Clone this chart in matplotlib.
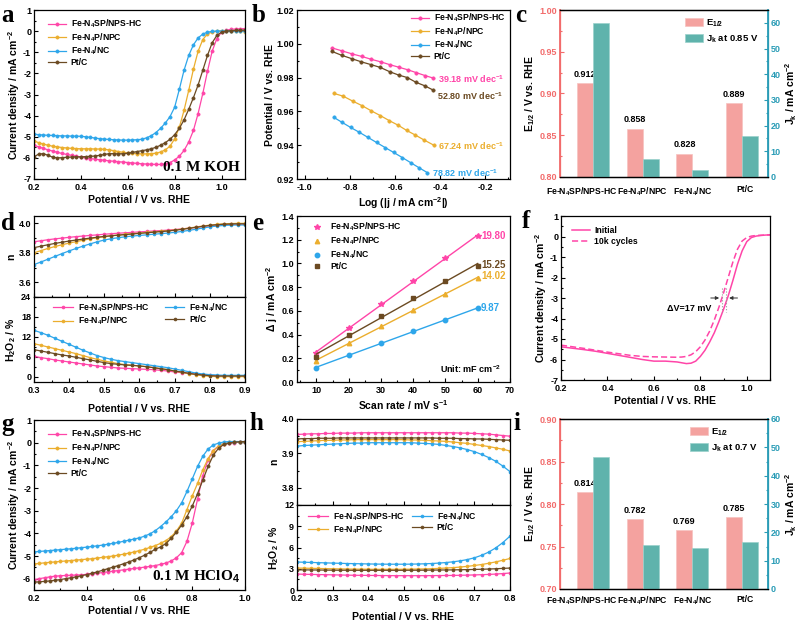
import numpy as np
import matplotlib
matplotlib.use('Agg')
import matplotlib.pyplot as plt
from matplotlib.ticker import AutoMinorLocator
import matplotlib.transforms as mtransforms

plt.rcParams.update({
    'font.family': ['Liberation Sans', 'DejaVu Sans'],
    'font.weight': 'bold',
    'axes.labelweight': 'bold',
    'axes.unicode_minus': False,
    'mathtext.fontset': 'custom',
    'mathtext.rm': 'Liberation Sans:bold',
    'mathtext.it': 'Liberation Sans:bold',
    'mathtext.bf': 'Liberation Sans:bold',
    'mathtext.default': 'bf',
})

# ---------------- data ----------------
names = ['Fe-N$_4$SP/NPS-HC', 'Fe-N$_4$P/NPC', 'Fe-N$_4$/NC', 'Pt/C']
bar_names = ['Fe-N$_4$SP/NPS-HC', 'Fe-N$_4$P/NPC', 'Fe-N$_4$/NC', 'Pt/C']
colors = ['#FF45A8', '#EBAE2E', '#2EA6EA', '#6B4A22']

# (a) LSV in 0.1 M KOH
pot_a = [0.20, 0.22, 0.24, 0.26, 0.28, 0.30, 0.32, 0.34, 0.36, 0.38, 0.40, 0.42, 0.44, 0.46, 0.48,
         0.50, 0.52, 0.54, 0.56, 0.58, 0.60, 0.62, 0.64, 0.66, 0.68, 0.70, 0.72, 0.74, 0.76, 0.78,
         0.80, 0.82, 0.84, 0.86, 0.88, 0.90, 0.92, 0.94, 0.96, 0.98, 1.00, 1.02, 1.04, 1.06, 1.08, 1.10]
j_a_sp = [-5.40, -5.48, -5.55, -5.62, -5.68, -5.74, -5.79, -5.84, -5.88, -5.92, -5.96, -6.00, -6.03, -6.06, -6.09,
          -6.11, -6.14, -6.16, -6.18, -6.20, -6.22, -6.24, -6.26, -6.28, -6.29, -6.30, -6.31, -6.31, -6.28, -6.22,
          -6.10, -5.92, -5.65, -5.25, -4.70, -3.90, -2.95, -1.90, -0.95, -0.35, -0.05, 0.05, 0.08, 0.10, 0.11, 0.12]
j_a_p = [-5.20, -5.28, -5.35, -5.40, -5.45, -5.48, -5.51, -5.53, -5.55, -5.56, -5.57, -5.57, -5.57, -5.58, -5.58,
         -5.60, -5.62, -5.66, -5.70, -5.74, -5.77, -5.79, -5.80, -5.81, -5.81, -5.80, -5.78, -5.72, -5.62, -5.45,
         -5.10, -4.55, -3.75, -2.80, -1.80, -0.95, -0.40, -0.13, -0.04, 0.00, 0.02, 0.02, 0.02, 0.01, 0.00, -0.02]
j_a_nc = [-4.88, -4.90, -4.92, -4.93, -4.94, -4.95, -4.96, -4.96, -4.97, -4.97, -4.98, -5.00, -5.03, -5.06, -5.09,
          -5.11, -5.13, -5.14, -5.15, -5.16, -5.16, -5.15, -5.14, -5.12, -5.05, -4.95, -4.80, -4.60, -4.35, -4.05,
          -3.60, -2.75, -1.85, -1.15, -0.65, -0.32, -0.14, -0.05, -0.01, 0.00, 0.00, 0.00, 0.00, 0.00, 0.00, 0.00]
j_a_pt = [-5.95, -5.82, -5.80, -5.88, -5.97, -6.00, -5.99, -5.97, -5.96, -5.95, -5.95, -5.94, -5.93, -5.91, -5.88,
          -5.84, -5.80, -5.80, -5.81, -5.80, -5.78, -5.74, -5.70, -5.66, -5.62, -5.57, -5.50, -5.40, -5.28, -5.12,
          -4.90, -4.60, -4.20, -3.70, -3.15, -2.55, -1.85, -1.15, -0.55, -0.20, -0.05, 0.00, 0.02, 0.03, 0.04, 0.05]

# (b) Tafel
logj_sp = [-0.878, -0.835, -0.790, -0.747, -0.705, -0.663, -0.622, -0.582, -0.543, -0.505, -0.467, -0.430]
e_sp = [0.9975, 0.9958, 0.9940, 0.9925, 0.9908, 0.9893, 0.9876, 0.9861, 0.9846, 0.9829, 0.9812, 0.9797]
logj_p = [-0.870, -0.830, -0.788, -0.745, -0.705, -0.665, -0.625, -0.586, -0.548, -0.510, -0.470, -0.428]
e_p = [0.9706, 0.9690, 0.9661, 0.9633, 0.9603, 0.9575, 0.9545, 0.9518, 0.9487, 0.9460, 0.9430, 0.9400]
logj_nc = [-0.872, -0.835, -0.797, -0.758, -0.720, -0.682, -0.644, -0.606, -0.568, -0.531, -0.494, -0.457]
e_nc = [0.9565, 0.9535, 0.9505, 0.9476, 0.9446, 0.9416, 0.9386, 0.9357, 0.9327, 0.9297, 0.9267, 0.9238]
logj_pt = [-0.880, -0.837, -0.792, -0.749, -0.707, -0.665, -0.624, -0.584, -0.545, -0.507, -0.469, -0.432]
e_pt = [0.9955, 0.9932, 0.9912, 0.9893, 0.9877, 0.9860, 0.9835, 0.9815, 0.9800, 0.9772, 0.9752, 0.9727]
tafel_labels = ['39.18 mV dec$^{-1}$', '67.24 mV dec$^{-1}$', '78.82 mV dec$^{-1}$', '52.80 mV dec$^{-1}$']
tafel_label_y = [0.9790, 0.9394, 0.9236, 0.9690]

# (c) E1/2 and Jk in KOH
e12_koh = [0.912, 0.858, 0.828, 0.889]
jk_koh = [59.8, 7.0, 2.6, 15.8]

# (d) RRDE in KOH
pot_d = [0.30, 0.32, 0.34, 0.36, 0.38, 0.40, 0.42, 0.44, 0.46, 0.48, 0.50, 0.52, 0.54, 0.56, 0.58, 0.60,
         0.62, 0.64, 0.66, 0.68, 0.70, 0.72, 0.74, 0.76, 0.78, 0.80, 0.82, 0.84, 0.86, 0.88, 0.90]
n_d_sp = [3.875, 3.882, 3.889, 3.895, 3.900, 3.905, 3.910, 3.914, 3.918, 3.922, 3.926, 3.930, 3.933, 3.936, 3.939,
          3.942, 3.945, 3.948, 3.951, 3.954, 3.958, 3.962, 3.967, 3.973, 3.979, 3.985, 3.990, 3.993, 3.995, 3.996, 3.996]
n_d_p = [3.800, 3.815, 3.830, 3.843, 3.855, 3.866, 3.876, 3.886, 3.895, 3.903, 3.910, 3.916, 3.921, 3.926, 3.930,
         3.934, 3.938, 3.942, 3.946, 3.950, 3.955, 3.961, 3.968, 3.975, 3.982, 3.988, 3.993, 3.997, 3.999, 4.000, 4.000]
n_d_nc = [3.720, 3.738, 3.757, 3.776, 3.795, 3.813, 3.830, 3.846, 3.861, 3.875, 3.887, 3.896, 3.903, 3.909, 3.914,
          3.918, 3.922, 3.926, 3.930, 3.934, 3.939, 3.945, 3.952, 3.960, 3.968, 3.976, 3.982, 3.986, 3.988, 3.989, 3.989]
n_d_pt = [3.835, 3.845, 3.855, 3.864, 3.872, 3.880, 3.887, 3.894, 3.900, 3.906, 3.911, 3.916, 3.920, 3.924, 3.928,
          3.932, 3.936, 3.940, 3.944, 3.948, 3.953, 3.959, 3.966, 3.973, 3.980, 3.986, 3.991, 3.994, 3.996, 3.997, 3.997]
h_d_sp = [6.2, 5.8, 5.5, 5.1, 4.8, 4.5, 4.2, 3.9, 3.6, 3.3, 3.1, 2.9, 2.7, 2.6, 2.5, 2.4,
          2.3, 2.2, 2.0, 1.8, 1.5, 1.3, 1.1, 0.9, 0.7, 0.5, 0.4, 0.3, 0.3, 0.3, 0.3]
h_d_p = [10.0, 9.5, 9.0, 8.5, 8.0, 7.5, 7.0, 6.4, 5.8, 5.3, 4.8, 4.4, 4.0, 3.7, 3.5, 3.3,
         3.1, 2.8, 2.5, 2.2, 1.8, 1.4, 1.0, 0.7, 0.4, 0.2, 0.1, 0.1, 0.1, 0.1, 0.1]
h_d_nc = [14.0, 13.3, 12.5, 11.6, 10.7, 9.8, 8.9, 8.0, 7.2, 6.4, 5.8, 5.3, 4.9, 4.6, 4.3, 4.0,
          3.7, 3.4, 3.1, 2.8, 2.4, 2.0, 1.6, 1.2, 0.9, 0.7, 0.6, 0.5, 0.5, 0.5, 0.5]
h_d_pt = [8.2, 7.8, 7.4, 7.0, 6.6, 6.3, 5.9, 5.5, 5.1, 4.7, 4.3, 4.0, 3.8, 3.6, 3.5, 3.3,
          3.1, 2.8, 2.5, 2.2, 1.8, 1.5, 1.1, 0.8, 0.6, 0.4, 0.3, 0.3, 0.3, 0.3, 0.3]

# (e) double-layer capacitance
scan_rate = [10, 20, 30, 40, 50, 60]
dj_sp = [0.245, 0.455, 0.655, 0.855, 1.045, 1.230]
dj_p = [0.175, 0.330, 0.470, 0.610, 0.745, 0.875]
dj_nc = [0.120, 0.225, 0.330, 0.430, 0.525, 0.620]
dj_pt = [0.215, 0.395, 0.555, 0.710, 0.850, 0.980]
cdl_labels = ['19.80', '14.02', '9.87', '15.25']
cdl_label_y = [1.235, 0.895, 0.620, 0.985]

# (f) stability
pot_f = [0.20, 0.25, 0.30, 0.35, 0.40, 0.45, 0.50, 0.55, 0.60, 0.65, 0.70, 0.72, 0.74, 0.76, 0.78, 0.80,
         0.82, 0.84, 0.86, 0.88, 0.90, 0.92, 0.94, 0.96, 0.98, 1.00, 1.02, 1.04, 1.06, 1.08, 1.10]
j_f_init = [-5.38, -5.45, -5.52, -5.60, -5.70, -5.80, -5.90, -6.00, -6.08, -6.08, -6.12, -6.16, -6.20, -6.18, -6.08,
            -5.85, -5.55, -5.15, -4.70, -4.15, -3.55, -2.90, -2.15, -1.35, -0.70, -0.25, -0.05, 0.02, 0.05, 0.07, 0.08]
j_f_10k = [-5.30, -5.38, -5.46, -5.55, -5.64, -5.72, -5.80, -5.85, -5.87, -5.88, -5.89, -5.88, -5.85, -5.77, -5.62,
           -5.38, -5.05, -4.62, -4.08, -3.45, -2.75, -2.00, -1.25, -0.62, -0.22, -0.05, 0.02, 0.05, 0.06, 0.07, 0.08]
half_wave_f = [0.893, 0.912]

# (g) LSV in 0.1 M HClO4
pot_g = [0.20, 0.22, 0.24, 0.26, 0.28, 0.30, 0.32, 0.34, 0.36, 0.38, 0.40, 0.42, 0.44, 0.46, 0.48, 0.50,
         0.52, 0.54, 0.56, 0.58, 0.60, 0.62, 0.64, 0.66, 0.68, 0.70, 0.72, 0.74, 0.76, 0.78, 0.80,
         0.82, 0.84, 0.86, 0.88, 0.90, 0.92, 0.94, 0.96, 0.98, 1.00]
j_g_sp = [-6.05, -6.00, -5.96, -5.92, -5.89, -5.87, -5.86, -5.85, -5.84, -5.83, -5.81, -5.79, -5.76, -5.73, -5.70, -5.67,
          -5.64, -5.61, -5.58, -5.55, -5.52, -5.49, -5.46, -5.42, -5.37, -5.31, -5.22, -5.08, -4.85, -4.35, -3.55,
          -2.50, -1.45, -0.75, -0.35, -0.15, -0.06, -0.02, 0.00, 0.02, 0.03]
j_g_p = [-5.35, -5.33, -5.30, -5.28, -5.26, -5.24, -5.22, -5.20, -5.18, -5.16, -5.14, -5.12, -5.09, -5.06, -5.03, -5.00,
         -4.96, -4.92, -4.87, -4.82, -4.76, -4.70, -4.62, -4.54, -4.44, -4.32, -4.15, -3.90, -3.55, -2.95, -2.35,
         -1.80, -1.20, -0.70, -0.35, -0.14, -0.04, 0.01, 0.03, 0.03, 0.03]
j_g_nc = [-4.82, -4.80, -4.78, -4.76, -4.74, -4.72, -4.70, -4.68, -4.66, -4.63, -4.61, -4.58, -4.55, -4.52, -4.48, -4.44,
          -4.40, -4.35, -4.30, -4.25, -4.20, -4.12, -4.02, -3.88, -3.70, -3.50, -3.27, -3.00, -2.65, -2.15, -1.60,
          -1.05, -0.60, -0.28, -0.10, -0.02, 0.03, 0.05, 0.05, 0.05, 0.05]
j_g_pt = [-6.15, -6.14, -6.12, -6.10, -6.07, -6.04, -6.00, -5.96, -5.92, -5.87, -5.82, -5.76, -5.70, -5.63, -5.56, -5.49,
          -5.42, -5.34, -5.26, -5.17, -5.07, -4.96, -4.84, -4.70, -4.60, -4.45, -4.22, -3.95, -3.63, -3.26, -2.80,
          -2.25, -1.65, -1.05, -0.55, -0.24, -0.08, -0.02, 0.02, 0.04, 0.05]

# (h) RRDE in HClO4
pot_h = [0.20, 0.22, 0.24, 0.26, 0.28, 0.30, 0.32, 0.34, 0.36, 0.38, 0.40, 0.42, 0.44, 0.46, 0.48, 0.50,
         0.52, 0.54, 0.56, 0.58, 0.60, 0.62, 0.64, 0.66, 0.68, 0.70, 0.72, 0.74, 0.76, 0.78, 0.80]
n_h_sp = [3.955, 3.956, 3.957, 3.957, 3.958, 3.958, 3.959, 3.959, 3.959, 3.960, 3.960, 3.960, 3.960, 3.960, 3.960, 3.960,
          3.960, 3.960, 3.960, 3.960, 3.960, 3.960, 3.960, 3.959, 3.959, 3.958, 3.957, 3.956, 3.954, 3.952, 3.950]
n_h_p = [3.934, 3.935, 3.936, 3.937, 3.938, 3.938, 3.939, 3.939, 3.940, 3.940, 3.940, 3.940, 3.940, 3.940, 3.940, 3.940,
         3.939, 3.939, 3.938, 3.937, 3.936, 3.935, 3.933, 3.931, 3.929, 3.926, 3.923, 3.920, 3.916, 3.912, 3.907]
n_h_nc = [3.921, 3.923, 3.924, 3.925, 3.926, 3.927, 3.928, 3.929, 3.930, 3.930, 3.931, 3.931, 3.931, 3.931, 3.931, 3.931,
          3.931, 3.930, 3.929, 3.928, 3.926, 3.923, 3.920, 3.916, 3.911, 3.905, 3.897, 3.888, 3.877, 3.863, 3.847]
n_h_pt = [3.942, 3.943, 3.943, 3.944, 3.944, 3.944, 3.945, 3.945, 3.945, 3.945, 3.945, 3.945, 3.945, 3.945, 3.945, 3.945,
          3.945, 3.945, 3.945, 3.945, 3.944, 3.944, 3.944, 3.943, 3.943, 3.942, 3.942, 3.941, 3.940, 3.939, 3.938]
h_h_sp = [2.25, 2.22, 2.20, 2.18, 2.16, 2.14, 2.12, 2.10, 2.08, 2.07, 2.06, 2.05, 2.04, 2.03, 2.02, 2.02,
          2.02, 2.02, 2.02, 2.03, 2.04, 2.05, 2.06, 2.08, 2.10, 2.13, 2.16, 2.20, 2.25, 2.32, 2.40]
h_h_p = [3.10, 3.08, 3.06, 3.04, 3.02, 3.00, 2.98, 2.96, 2.95, 2.94, 2.93, 2.92, 2.92, 2.92, 2.92, 2.93,
         2.94, 2.96, 2.98, 3.01, 3.05, 3.10, 3.16, 3.24, 3.34, 3.46, 3.60, 3.77, 3.97, 4.20, 4.45]
h_h_nc = [3.95, 3.92, 3.89, 3.86, 3.83, 3.80, 3.77, 3.74, 3.72, 3.70, 3.68, 3.66, 3.65, 3.64, 3.64, 3.64,
          3.65, 3.67, 3.70, 3.74, 3.80, 3.88, 3.98, 4.12, 4.30, 4.55, 4.90, 5.35, 5.95, 6.70, 7.60]
h_h_pt = [2.85, 2.84, 2.83, 2.82, 2.81, 2.80, 2.79, 2.79, 2.78, 2.78, 2.78, 2.78, 2.78, 2.78, 2.78, 2.78,
          2.79, 2.79, 2.80, 2.81, 2.82, 2.83, 2.84, 2.86, 2.88, 2.90, 2.93, 2.96, 3.00, 3.05, 3.10]

# (i) E1/2 and Jk in HClO4
e12_acid = [0.814, 0.782, 0.769, 0.785]
jk_acid = [46.5, 15.5, 14.5, 16.5]

# ---------------- figure ----------------
W, H = 800, 622
fig = plt.figure(figsize=(W / 100, H / 100), dpi=100)

TICK = 6.5
LAB = 7.5
LEG = 6.2


def rect(l, t, r, b):
    return [l / W, 1 - b / H, (r - l) / W, (b - t) / H]


def style(ax, xminor=2, yminor=2):
    ax.tick_params(direction='in', which='both', labelsize=TICK, width=0.8)
    ax.tick_params(axis='x', which='both', pad=3)
    ax.tick_params(axis='y', which='both', pad=2)
    ax.tick_params(which='major', length=3)
    ax.tick_params(which='minor', length=1.6)
    if xminor:
        ax.xaxis.set_minor_locator(AutoMinorLocator(xminor))
    if yminor:
        ax.yaxis.set_minor_locator(AutoMinorLocator(yminor))
    for s in ax.spines.values():
        s.set_linewidth(0.9)


def mline(ax, x, y, c, label=None, ms=2.3):
    ax.plot(x, y, '-o', color=c, lw=0.9, ms=ms, mew=0.5, label=label)


def leg(ax, anchor, loc='upper left', **kw):
    opts = dict(frameon=False, fontsize=LEG, borderpad=0, borderaxespad=0,
                handlelength=2.1, handletextpad=0.55, labelspacing=0.12)
    opts.update(kw)
    return ax.legend(loc=loc, bbox_to_anchor=anchor, **opts)


def letter(x, y, s):
    fig.text(x / W, 1 - y / H, s, fontsize=18, family='Liberation Serif', weight='bold',
             ha='center', va='center')


# ----- (a)
ax = fig.add_axes(rect(34, 10, 245, 179))
for y, c, n in zip([j_a_sp, j_a_p, j_a_nc, j_a_pt], colors, names):
    mline(ax, pot_a, y, c, n)
ax.set_xlim(0.2, 1.1)
ax.set_ylim(-7, 1)
ax.set_xticks([0.2, 0.4, 0.6, 0.8, 1.0])
ax.set_yticks(range(-7, 2))
style(ax)
ax.set_xlabel('Potential / V vs. RHE', fontsize=LAB, labelpad=2)
ax.set_ylabel('Current density / mA cm$^{-2}$', fontsize=LAB, labelpad=1)
leg(ax, (0.066, 0.955))
ax.text(0.975, 0.03, '0.1 M KOH', transform=ax.transAxes, ha='right', va='bottom',
        fontsize=11, family='Liberation Serif', weight='bold')

# ----- (b)
ax = fig.add_axes(rect(297, 10, 510, 179))
tx = [logj_sp, logj_p, logj_nc, logj_pt]
ty = [e_sp, e_p, e_nc, e_pt]
for x, y, c, n in zip(tx, ty, colors, names):
    mline(ax, x, y, c, n, ms=2.4)
for x, c, lab, ly in zip(tx, colors, tafel_labels, tafel_label_y):
    ax.text(max(x) + 0.02, ly, lab, color=c, fontsize=6.5, va='center', ha='left')
ax.set_xticks([-1.0, -0.8, -0.6, -0.4, -0.2])
ax.set_yticks([0.92, 0.94, 0.96, 0.98, 1.00, 1.02])
style(ax)
ax.set_xlim(-1.035, -0.09)
ax.set_ylim(0.92, 1.02)
ax.set_xlabel('Log (|j / mA cm$^{-2}$|)', fontsize=LAB, labelpad=2)
ax.set_ylabel('Potential / V vs. RHE', fontsize=LAB, labelpad=1)
leg(ax, (0.977, 0.99), loc='upper right')

# ----- bar panels (c) and (i)
E_COL = '#F4A29F'
J_COL = '#5FB3AC'
L_AX = '#F26B6B'
R_AX = '#2A9CB6'


def bars(rc, e12, jk, elim, eticks, jlim, jticks, jlabel, lpad):
    ax = fig.add_axes(rc)
    pos = np.arange(len(e12))
    w = 0.32
    b1 = ax.bar(pos - w / 2, e12, width=w, color=E_COL, edgecolor='#F7C2C0', linewidth=0.5)
    ax.set_ylim(*elim)
    ax.set_yticks(eticks)
    ax.set_xlim(-0.66, 3.52)
    for xp, v in zip(pos - w / 2, e12):
        ax.annotate(f'{v:.3f}', (xp, v), xytext=(0, 3), textcoords='offset points',
                    ha='center', va='bottom', fontsize=6.5)
    ax2 = ax.twinx()
    b2 = ax2.bar(pos + w / 2, jk, width=w, color=J_COL, edgecolor='#9BD1CC', linewidth=0.5)
    ax2.set_ylim(*jlim)
    ax2.set_yticks(jticks)
    ax.set_xticks(pos)
    ax.set_xticklabels(bar_names, fontsize=6.2)
    style(ax, xminor=0, yminor=2)
    style(ax2, xminor=0, yminor=2)
    ax.tick_params(axis='x', which='both', length=0, pad=lpad, labelsize=6.2)
    ax.tick_params(axis='y', which='both', colors=L_AX)
    ax2.tick_params(axis='y', which='both', colors=R_AX)
    ax.spines['left'].set_color(L_AX)
    ax2.spines['left'].set_color(L_AX)
    ax2.spines['right'].set_color(R_AX)
    ax.spines['right'].set_color(R_AX)
    ax.spines['left'].set_linewidth(1.3)
    ax2.spines['right'].set_linewidth(1.3)
    labs = ax.get_xticklabels()
    labs[0].set_transform(labs[0].get_transform() +
                          mtransforms.ScaledTranslation(-11 / 100, 0, fig.dpi_scale_trans))
    labs[3].set_transform(labs[3].get_transform() +
                          mtransforms.ScaledTranslation(3 / 100, 0, fig.dpi_scale_trans))
    ax.set_ylabel('E$_{1/2}$ / V vs. RHE', fontsize=LAB, labelpad=2)
    ax2.set_ylabel('J$_k$ / mA cm$^{-2}$', fontsize=LAB, labelpad=2)
    ax2.legend([b1, b2], ['E$_{1/2}$', jlabel], loc='upper right',
               bbox_to_anchor=(0.952, 0.955), frameon=False, fontsize=6.8,
               borderpad=0, borderaxespad=0, handlelength=1.9, handleheight=0.95,
               handletextpad=0.3, labelspacing=0.45)
    return ax


bars(rect(560, 10, 768, 177), e12_koh, jk_koh, (0.80, 1.00),
     [0.80, 0.85, 0.90, 0.95, 1.00], (0, 65), [0, 10, 20, 30, 40, 50, 60], 'J$_k$ at 0.85 V', 6)
bars(rect(560, 419, 768, 589), e12_acid, jk_acid, (0.70, 0.90),
     [0.70, 0.75, 0.80, 0.85, 0.90], (0, 60), [0, 10, 20, 30, 40, 50, 60], 'J$_k$ at 0.7 V', 4)


# ----- RRDE panels (d) and (h)
def rrde(l, t, mid, r, b, x, ns, hs, xlim, xticks, nlim, nticks, hlim, hticks, lx, ly, cs):
    axn = fig.add_axes(rect(l, t, r, mid))
    axh = fig.add_axes(rect(l, mid, r, b), sharex=axn)
    for y, c in zip(ns, colors):
        mline(axn, x, y, c, ms=2.1)
    for y, c, n in zip(hs, colors, names):
        mline(axh, x, y, c, n, ms=2.1)
    axh.set_xlim(*xlim)
    axh.set_xticks(xticks)
    axn.set_ylim(*nlim)
    axn.set_yticks(nticks)
    axh.set_ylim(*hlim)
    axh.set_yticks(hticks)
    style(axn)
    style(axh)
    axn.tick_params(axis='x', labelbottom=False)
    axn.set_ylabel('n', fontsize=LAB, labelpad=2)
    axh.set_ylabel('H$_2$O$_2$ / %', fontsize=LAB, labelpad=2)
    axh.set_xlabel('Potential / V vs. RHE', fontsize=LAB, labelpad=6)
    leg(axh, (lx, ly), ncol=2, handlelength=2.3, columnspacing=cs, labelspacing=0.1)
    return axn, axh


rrde(34, 216, 297, 245, 382, pot_d, [n_d_sp, n_d_p, n_d_nc, n_d_pt],
     [h_d_sp, h_d_p, h_d_nc, h_d_pt], (0.3, 0.9), [0.3, 0.4, 0.5, 0.6, 0.7, 0.8, 0.9],
     (3.5, 4.05), [3.6, 3.8, 4.0], (-1.5, 24), [0, 6, 12, 18, 24], 0.09, 0.95, 1.8)
rrde(297, 419, 505, 510, 590, pot_h, [n_h_sp, n_h_p, n_h_nc, n_h_pt],
     [h_h_sp, h_h_p, h_h_nc, h_h_pt], (0.2, 0.8), [0.2, 0.3, 0.4, 0.5, 0.6, 0.7, 0.8],
     (3.75, 4.0), [3.8, 3.9, 4.0], (0, 12), [0, 3, 6, 9, 12], 0.052, 0.94, 0.9)

# ----- (e)
ax = fig.add_axes(rect(297, 216, 510, 382))
mk = ['*', '^', 'o', 's']
dys = [dj_sp, dj_p, dj_nc, dj_pt]
for i in range(4):
    y = dys[i]
    k, b0 = np.polyfit(scan_rate, y, 1)
    xs = np.array([min(scan_rate), max(scan_rate)])
    ax.plot(xs, k * xs + b0, '-', color=colors[i], lw=1.0)
    ax.plot(scan_rate, y, mk[i], color=colors[i], ms=4.2 if mk[i] == '*' else 3.2,
            linestyle='none', label=names[i])
for i in range(4):
    ax.text(61, cdl_label_y[i], cdl_labels[i], color=colors[i], fontsize=7, va='center', ha='left')
ax.text(0.96, 0.04, 'Unit: mF cm$^{-2}$', transform=ax.transAxes, ha='right', va='bottom', fontsize=6.5)
ax.set_xlim(4, 70)
ax.set_ylim(0, 1.4)
ax.set_xticks([10, 20, 30, 40, 50, 60, 70])
ax.set_yticks([0.0, 0.2, 0.4, 0.6, 0.8, 1.0, 1.2, 1.4])
style(ax)
ax.set_xlabel('Scan rate / mV s$^{-1}$', fontsize=LAB, labelpad=2)
ax.set_ylabel('Δ j / mA cm$^{-2}$', fontsize=LAB, labelpad=1)
leg(ax, (0.07, 0.97), handlelength=1.2, handletextpad=0.9, labelspacing=0.15)

# ----- (f)
ax = fig.add_axes(rect(561, 216, 770, 380))
ax.plot(pot_f, j_f_init, '-', color=colors[0], lw=1.1, label='Initial')
ax.plot(pot_f, j_f_10k, '--', color=colors[0], lw=1.1, dashes=(4, 2), label='10k cycles')
for xv in half_wave_f:
    ax.plot([xv, xv], [-2.5, -3.7], ':', color='#999999', lw=0.8)
ax.annotate('', xy=(half_wave_f[0], -3.0), xytext=(half_wave_f[0] - 0.06, -3.0),
            arrowprops=dict(arrowstyle='-|>', color='#333333', lw=0.7, mutation_scale=5))
ax.annotate('', xy=(half_wave_f[1], -3.0), xytext=(half_wave_f[1] + 0.06, -3.0),
            arrowprops=dict(arrowstyle='-|>', color='#333333', lw=0.7, mutation_scale=5))
ax.text(0.655, -3.5, 'ΔV=17 mV', fontsize=6.5, va='center', ha='left')
ax.set_xlim(0.2, 1.1)
ax.set_ylim(-7, 1)
ax.set_xticks([0.2, 0.4, 0.6, 0.8, 1.0])
ax.set_yticks(range(-7, 2))
style(ax)
ax.set_xlabel('Potential / V vs. RHE', fontsize=LAB, labelpad=2)
ax.set_ylabel('Current density / mA cm$^{-2}$', fontsize=LAB, labelpad=1)
leg(ax, (0.053, 0.94), handletextpad=0.5, labelspacing=0.2)

# ----- (g)
ax = fig.add_axes(rect(34, 420, 245, 590))
for y, c, n in zip([j_g_sp, j_g_p, j_g_nc, j_g_pt], colors, names):
    mline(ax, pot_g, y, c, n)
ax.set_xlim(0.2, 1.0)
ax.set_ylim(-6.5, 1)
ax.set_xticks([0.2, 0.4, 0.6, 0.8, 1.0])
ax.set_yticks(range(-6, 2))
style(ax)
ax.set_xlabel('Potential / V vs. RHE', fontsize=LAB, labelpad=2)
ax.set_ylabel('Current density / mA cm$^{-2}$', fontsize=LAB, labelpad=1)
leg(ax, (0.066, 0.953))
ax.text(0.975, 0.03, '0.1 M HClO$_4$', transform=ax.transAxes, ha='right', va='bottom',
        fontsize=11, family='Liberation Serif', weight='bold')

# ----- panel letters
for x, y, s in [(8, 15, 'a'), (259, 15, 'b'), (521, 15, 'c'),
                (8, 224, 'd'), (258, 224, 'e'), (526, 222, 'f'),
                (8, 425, 'g'), (256, 423, 'h'), (517, 423, 'i')]:
    letter(x, y, s)

fig.savefig('out.png', dpi=100)
